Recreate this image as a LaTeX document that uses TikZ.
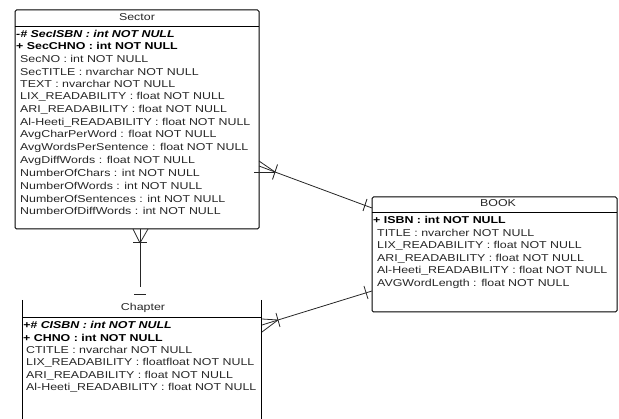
\documentclass[tikz,border=0pt]{standalone}
\usepackage{fontspec}
\setmainfont{Liberation Sans}[FakeStretch=1.24]
\usepackage{tikz}
\usetikzlibrary{calc}
\tikzset{>=latex}
\tikzset{
	entity/.style={draw=black, line width=1pt, rounded corners=1.5pt},
	sep/.style={draw=black, line width=0.8pt},
	rel/.style={draw=black!85, line width=0.8pt},
	title/.style={inner sep=0pt, text=black!85, font=\fontsize{10}{12}\selectfont},
	attr/.style={anchor=west, inner sep=0pt, text=black!85, font=\fontsize{10}{12}\selectfont},
	key/.style={attr, text=black, font=\fontsize{10}{12}\selectfont\bfseries},
	pkey/.style={attr, text=black, font=\fontsize{10}{12}\selectfont\bfseries\itshape}
}

\begin{document}
\begin{tikzpicture}[x=1pt, y=-1pt]
	\useasboundingbox (0,0) rectangle (619,419);

	%% Sector
	\coordinate[](sa) at (15,10);
	\coordinate[](sc) at (259,229);
	\draw[entity] (sa) rectangle (sc);
	\draw[sep] (15,26) -- (259,26);
	\node[title] (st) at (137,17.5) {Sector};
	\node[pkey] (s1) at (16,33.5) {-\# SecISBN : int NOT NULL};
	\node[key] (s2) at (16,46.2) {+ SecCHNO : int NOT NULL};
	\node[attr] (s3) at (20,58.9) {SecNO : int NOT NULL};
	\node[attr] (s4) at (20,71.6) {SecTITLE : nvarchar NOT NULL};
	\node[attr] (s5) at (20,84.3) {TEXT : nvarchar NOT NULL};
	\node[attr] (s6) at (20,97) {LIX\_READABILITY : float NOT NULL};
	\node[attr] (s7) at (20,109.7) {ARI\_READABILITY : float NOT NULL};
	\node[attr] (s8) at (20,122.4) {Al-Heeti\_READABILITY : float NOT NULL};
	\node[attr] (s9) at (20,135.1) {AvgCharPerWord : float NOT NULL};
	\node[attr] (s10) at (20,147.8) {AvgWordsPerSentence : float NOT NULL};
	\node[attr] (s11) at (20,160.5) {AvgDiffWords : float NOT NULL};
	\node[attr] (s12) at (20,173.2) {NumberOfChars : int NOT NULL};
	\node[attr] (s13) at (20,185.9) {NumberOfWords : int NOT NULL};
	\node[attr] (s14) at (20,198.6) {NumberOfSentences : int NOT NULL};
	\node[attr] (s15) at (20,211.3) {NumberOfDiffWords : int NOT NULL};

	%% Chapter (top edge not drawn, cut at the bottom)
	\draw[entity] (22,300) -- (22,420);
	\draw[entity] (261,300) -- (261,420);
	\draw[sep] (22,317) -- (261,317);
	\node[title] (ct) at (143,307.5) {Chapter};
	\node[pkey] (c1) at (23,325) {+\# CISBN : int NOT NULL};
	\node[key] (c2) at (23,337.6) {+ CHNO : int NOT NULL};
	\node[attr] (c3) at (26,350.2) {CTITLE : nvarchar NOT NULL};
	\node[attr] (c4) at (26,362.8) {LIX\_READABILITY : floatfloat NOT NULL};
	\node[attr] (c5) at (26,375.4) {ARI\_READABILITY : float NOT NULL};
	\node[attr] (c6) at (26,388) {Al-Heeti\_READABILITY : float NOT NULL};

	%% BOOK
	\coordinate[](ba) at (372,197);
	\coordinate[](bc) at (617,312);
	\draw[entity] (ba) rectangle (bc);
	\draw[sep] (372,212) -- (617,212);
	\node[title] (bt) at (498,203.5) {BOOK};
	\node[key] (b1) at (373,220) {+ ISBN : int NOT NULL};
	\node[attr] (b2) at (377,232.8) {TITLE : nvarcher NOT NULL};
	\node[attr] (b3) at (377,245.6) {LIX\_READABILITY : float NOT NULL};
	\node[attr] (b4) at (377,258.4) {ARI\_READABILITY : float NOT NULL};
	\node[attr] (b5) at (377,271.2) {Al-Heeti\_READABILITY : float NOT NULL};
	\node[attr] (b6) at (377,284) {AVGWordLength : float NOT NULL};

	%% Sector -- BOOK
	\coordinate[](sbs) at (275,172);
	\coordinate[](sbb) at (372,208);
	\draw[rel] (sbs) -- (sbb);
	\draw[rel] (sbs) -- (259,161);
	\draw[rel] (sbs) -- (259,166);
	\draw[rel] (sbs) -- (254,172);
	\draw[rel] (277.5,164.5) -- (272.5,179.5);
	\draw[rel] (367,199) -- (363,211);

	%% Chapter -- BOOK
	\coordinate[](cbs) at (278,320);
	\coordinate[](cbb) at (372,291);
	\draw[rel] (cbs) -- (cbb);
	\draw[rel] (cbs) -- (262,319);
	\draw[rel] (cbs) -- (262,325);
	\draw[rel] (cbs) -- (262,332);
	\draw[rel] (276,313) -- (280,327);
	\draw[rel] (364,286) -- (368,299);

	%% Sector -- Chapter
	\coordinate[](scs) at (140,243);
	\coordinate[](scc) at (140,287);
	\draw[rel] (140,229) -- (scc);
	\draw[rel] (scs) -- (133,229);
	\draw[rel] (scs) -- (148,229);
	\draw[rel] (133,242) -- (147,242);
	\draw[rel] (134,294) -- (146,294);
\end{tikzpicture}
\end{document}
